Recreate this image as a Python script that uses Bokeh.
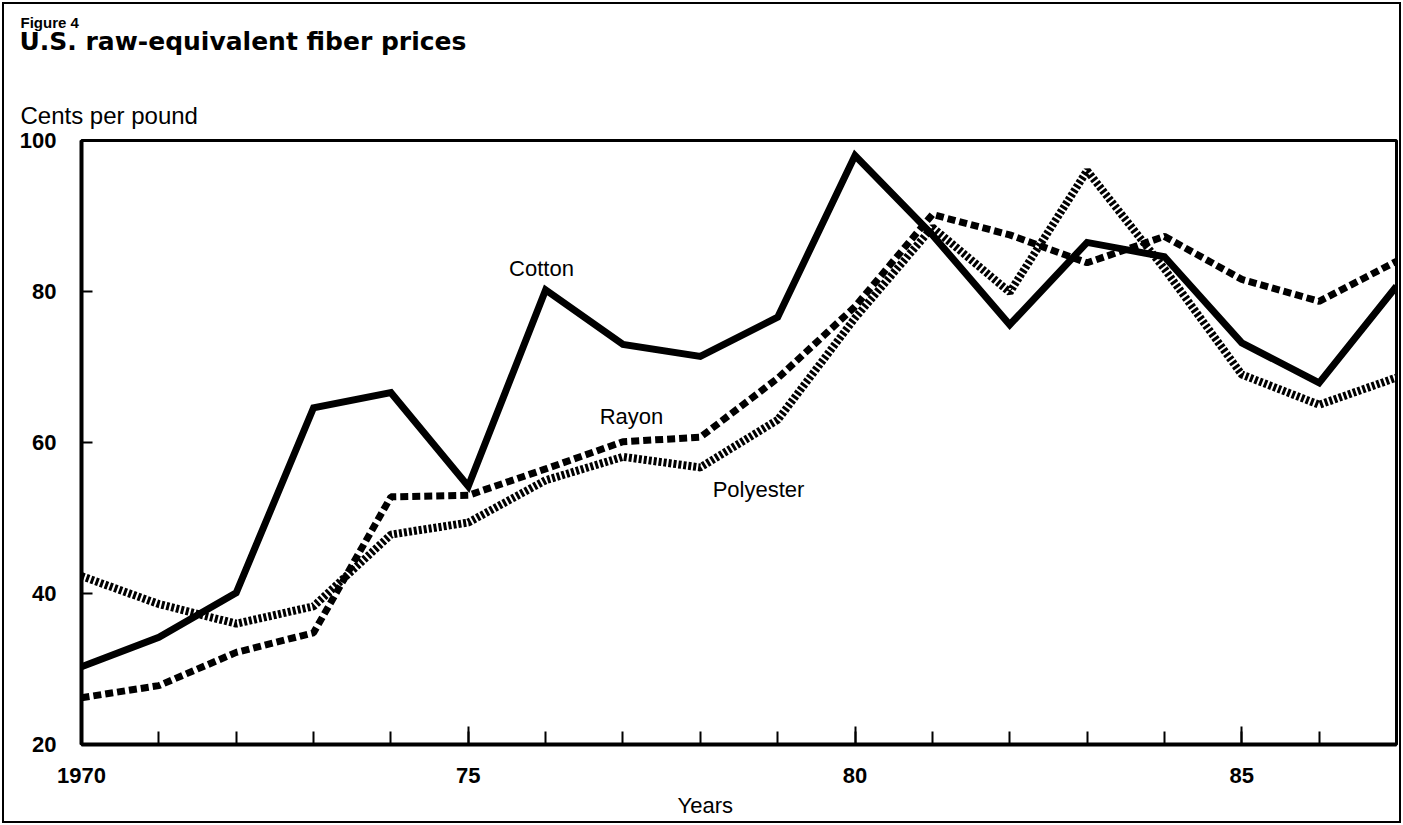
from bokeh.plotting import figure
from bokeh.models import Range1d, FixedTicker, Label, Title
from bokeh.layouts import column
from bokeh.embed import file_html
from bokeh.resources import INLINE

# ---- data (cents per pound) ----
years = list(range(1970, 1988))
cotton = [30.3, 34.2, 40.1, 64.6, 66.6, 54.2, 80.2, 73.0, 71.4, 76.6,
          98.0, 87.5, 75.6, 86.5, 84.6, 73.2, 67.9, 80.7]
rayon = [26.2, 27.8, 32.2, 34.8, 52.8, 53.0, 56.5, 60.1, 60.7, 68.5,
         78.0, 90.2, 87.5, 83.8, 87.3, 81.6, 78.7, 84.0]
polyester = [42.3, 38.6, 36.0, 38.3, 47.8, 49.4, 55.0, 58.1, 56.7, 63.0,
             76.5, 88.5, 79.9, 96.0, 83.0, 69.0, 65.0, 68.6]
x_major = [1970, 1975, 1980, 1985]
x_major_labels = ["1970", "75", "80", "85"]
y_ticks = [20, 40, 60, 80, 100]
series_labels = ["Cotton", "Rayon", "Polyester"]

X0, X1 = 1970, 1987
Y0, Y1 = 20, 100

# ---- geometry (page pixels) ----
W, TOTAL_H = 1403, 825
HEAD_H = 90
FL, FR, FT, FB = 81, 1396, 140, 745   # frame edges on page
FONT = "Liberation Sans"
TEXT_X = 20


def px(xp):
    return X0 + (xp - FL) / (FR - FL) * (X1 - X0)


def py(yp):
    return Y0 + (FB - yp) / (FB - FT) * (Y1 - Y0)


# ---- header figure: "Figure 4" and main title ----
head = figure(width=W, height=HEAD_H, output_backend="svg", toolbar_location=None,
              x_range=Range1d(0, 1), y_range=Range1d(0, 1),
              x_axis_location=None, y_axis_location=None,
              min_border_left=FL, min_border_right=W - FR,
              min_border_top=50, min_border_bottom=0)
head.xgrid.visible = False
head.ygrid.visible = False
head.outline_line_color = None
head.background_fill_color = None
head.border_fill_color = None
head.add_layout(Title(text="U.S. raw-equivalent fiber prices", align="left",
                      offset=TEXT_X - 1 - FL, vertical_align="middle",
                      text_font="DejaVu Sans", text_font_size="25px",
                      text_font_style="bold", text_color="black",
                      standoff=-13), "above")
head.add_layout(Title(text="Figure 4", align="left", offset=TEXT_X - FL,
                      vertical_align="middle", text_font=FONT,
                      text_font_size="15px", text_font_style="bold",
                      text_color="black", standoff=2), "above")

# ---- main chart ----
MH = TOTAL_H - HEAD_H
p = figure(width=W, height=MH, output_backend="svg", toolbar_location=None,
           x_range=Range1d(X0, X1), y_range=Range1d(Y0, Y1),
           min_border_left=FL, min_border_right=W - FR,
           min_border_top=FT - HEAD_H, min_border_bottom=TOTAL_H - FB)
p.xgrid.visible = False
p.ygrid.visible = False
p.outline_line_color = "black"
p.outline_line_width = 3
p.background_fill_color = "white"
p.border_fill_color = None

p.add_layout(Title(text="Cents per pound", align="left", offset=TEXT_X - FL,
                   vertical_align="middle", text_font=FONT, text_font_size="24px",
                   text_font_style="normal", text_color="black", standoff=21), "above")

xa = p.xaxis[0]
xa.ticker = FixedTicker(ticks=x_major, minor_ticks=years)
xa.major_label_overrides = {t: l for t, l in zip(x_major, x_major_labels)}
xa.axis_line_width = 4
xa.axis_line_color = "black"
xa.major_tick_in = 18
xa.major_tick_out = 0
xa.minor_tick_in = 13
xa.minor_tick_out = 0
xa.major_tick_line_width = 2
xa.minor_tick_line_width = 2
xa.major_tick_line_color = "black"
xa.minor_tick_line_color = "black"
xa.major_label_text_font = FONT
xa.major_label_text_font_style = "bold"
xa.major_label_text_font_size = "22px"
xa.major_label_text_color = "black"
xa.major_label_standoff = 23

ya = p.yaxis[0]
ya.ticker = FixedTicker(ticks=y_ticks, minor_ticks=[])
ya.axis_line_width = 4
ya.axis_line_color = "black"
ya.major_tick_in = 11
ya.major_tick_out = 0
ya.major_tick_line_width = 2
ya.major_tick_line_color = "black"
ya.major_label_text_font = FONT
ya.major_label_text_font_style = "bold"
ya.major_label_text_font_size = "22px"
ya.major_label_text_color = "black"
ya.major_label_standoff = 25

# x-axis title, placed below the tick labels
p.add_layout(Title(text="Years", align="left", offset=706 - 29 - FL,
                   vertical_align="middle", text_font=FONT, text_font_size="22px",
                   text_font_style="normal", text_color="black", standoff=13), "below")

p.line(years, polyester, line_color="black", line_width=8, line_dash="3 2")
p.line(years, rayon, line_color="black", line_width=7, line_dash="8 4")
p.line(years, cotton, line_color="black", line_width=7, line_join="miter")

for txt, (cx, cy) in zip(series_labels, [(541, 268), (631, 416), (758, 490)]):
    p.add_layout(Label(x=px(cx), y=py(cy), text=txt, text_font=FONT,
                       text_font_size="22px", text_align="center",
                       text_baseline="middle", text_color="black"))

layout = column(head, p, spacing=0)
layout.styles = {"outline": "2px solid black", "outline-offset": "-4px"}

open("out.html", "w").write(file_html(layout, INLINE))
